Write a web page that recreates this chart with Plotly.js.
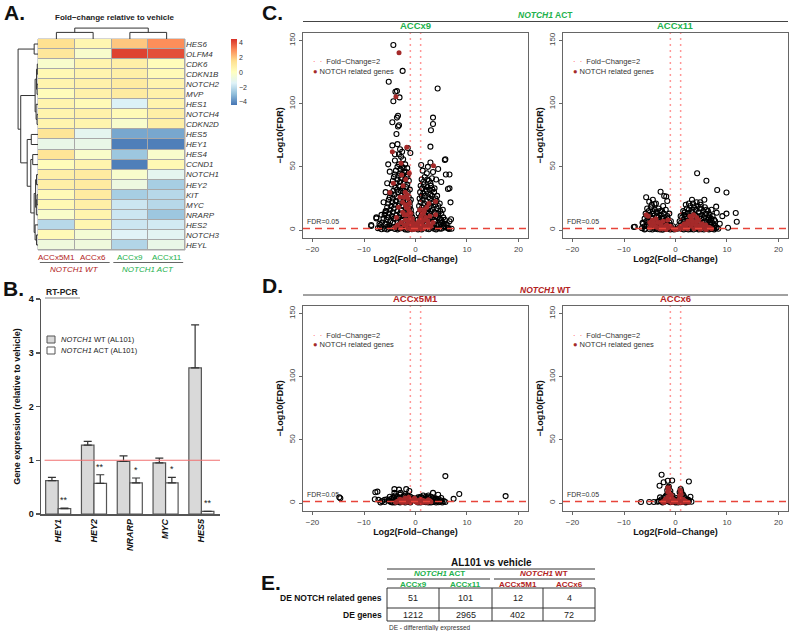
<!DOCTYPE html>
<html><head><meta charset="utf-8">
<script src="https://cdn.plot.ly/plotly-3.0.1.min.js"></script>
<style>html,body{margin:0;padding:0;background:#fff}#plot{width:790px;height:631px}</style>
</head><body><div id="plot"></div>
<script>
// ================= DATA =================
// Panel A: heatmap (fold-change relative to vehicle)
const heatGenes = ['HES6','OLFM4','CDK6','CDKN1B','NOTCH2','MVP','HES1','NOTCH4','CDKN2D','HES5','HEY1','HES4','CCND1','NOTCH1','HEY2','KIT','MYC','NRARP','HES2','NOTCH3','HEYL'];
const heatSamples = ['ACCx5M1','ACCx6','ACCx9','ACCx11'];
const heatValues = [
  [1.5, 0.5, 2.0, 3.0],
  [1.2, -0.3, 4.2, 4.0],
  [-0.3, 0.6, 0.8, 0.2],
  [0.4, 0.6, 0.8, 0.3],
  [0.6, 0.7, 1.0, 0.6],
  [0.2, 0.7, 1.0, 0.7],
  [0.6, 0.3, -1.5, 0.6],
  [0.6, 0.7, 0.3, 0.8],
  [0.6, 0.6, -0.3, 0.8],
  [1.3, -1.2, -3.4, -3.4],
  [-1.0, -1.0, -4.2, -4.2],
  [1.3, -0.2, -2.7, -0.3],
  [0.2, 0.6, -4.2, 0.4],
  [0.8, 1.0, -0.3, -1.2],
  [0.8, 1.0, -0.8, -2.5],
  [0.3, 1.0, -2.5, -2.2],
  [0.4, 0.8, -1.8, -2.2],
  [-0.2, 0.6, -1.8, -2.7],
  [-2.2, 0.5, -1.8, -1.7],
  [0.3, -0.5, -1.4, -1.3],
  [-0.7, -0.7, -2.3, -1.0]
];
// dendrogram merges: [left, right, height]; numbers = leaf index, 'mK' = merge K
const rowMerges = [
  [0,1,0.16],[2,3,0.03],[4,5,0.04],['m1','m2',0.06],[7,8,0.04],[6,'m4',0.08],['m3','m5',0.12],
  [9,10,0.28],[11,12,0.22],[13,14,0.06],[15,16,0.04],['m10',17,0.07],['m9','m11',0.10],
  [19,20,0.06],[18,'m13',0.12],['m12','m14',0.16],['m8','m15',0.30],['m7','m16',0.45],
  ['m6','m17',0.72],['m0','m18',0.83]
];
const colMerges = [[0,1,0.55],[2,3,0.55],['m0','m1',0.91]];

// Panel B: RT-PCR
const pcrGenes = ['HEY1','HEY2','NRARP','MYC','HES5'];
const wtMean = [0.62, 1.28, 0.98, 0.95, 2.72];
const wtErr  = [0.06, 0.07, 0.10, 0.09, 0.80];
const actMean = [0.10, 0.57, 0.58, 0.58, 0.05];
const actErr  = [0.01, 0.16, 0.09, 0.10, 0.00];
const pcrSig = ['**','**','*','*','**'];
const refLevel = 1;

// Panels C/D: volcano plots [log2FC, -log10FDR]
const fcThreshold = 1;          // log2(2)
const fdrThreshold = 0.05;
const accx9Other = [
 [-4.3,146.5],[-2.5,126],[-5.2,117.4],[4.3,112],[-3.9,109.5],[-3.6,110],[-3.1,105],[-4.3,102],[-3.4,90.5],[-3.6,89],[3.4,89],[3.4,84],[-4.5,85.3],[-3.4,82],[-3.2,83],[3.0,79],[-3.7,76],[2.9,66],[-4.5,67],[-3.5,68],[-3.0,64],[-2.6,62],[-4.0,60],[-2.8,58],[-2.4,56],[1.1,51.5],[2.9,53.5],[5.7,55.4],[4.4,48.3],[-5.0,46.2],[5.9,44],[6.3,32.5],[6.8,21.9],[-7.6,10],[-6.6,12],[-5.8,15],[-5.9,13.5],[-8.6,4],[-7.0,5],[6.6,7],[5.5,5],[-7.6,9.2],[-8.6,3.2],[-6.6,0.6],[6.9,8.5],[6.6,33],[6.6,44],[5.8,56],[-1.5,65],[-1.0,61],[4.0,40],[3.4,46],[2.2,45],[5.0,38],[-5.5,37],[-5.8,30],[-6.2,22],[-5.3,52],[1.4,47],[2.4,50],[-4.0,55],[-3.2,60],
 [-3.2,52],[-2.6,50],[-2.0,52],[-1.6,49],[-3.8,47],[-3.0,45],[-2.2,46],[-1.5,44],[-4.2,42],[-3.5,40],[-2.8,41],[-2.0,40],[-1.3,39],[-4.6,36],[-3.9,34],[-3.2,35],[-2.5,33],[-1.8,34],[-1.1,32],[-4.8,29],[-4.1,28],[-3.4,30],[-2.7,27],[-2.0,28],[-1.3,26],[-0.9,24],[-5.2,24],[-4.5,22],[-3.8,23],[-3.1,21],[-2.4,22],[-1.7,20],[-1.1,19],[-5.5,18],[-4.9,16],[-4.2,17],[-3.5,15],[-2.8,16],[-2.1,14],[-1.4,15],[-0.8,13],[-6.0,12],[-5.3,10],[-4.6,11],[-3.9,9],[-3.2,10],[-2.5,8],[-1.8,9],[-1.2,7],[-0.6,8],[-6.5,6],[-5.8,5],[-5.1,4],[-4.4,6],[-3.7,3],[-3.0,5],[-2.3,2],[-1.6,4],[-0.9,2],[-0.3,3],[-6.9,2],[-6.0,1],[-5.0,1.5],[-4.0,0.8],[-3.0,1.2],[-2.0,0.5],[-1.0,0.8],
 [-3.5,50],[-2.9,48],[-2.3,49],[-1.8,46],[-4.0,44],[-3.3,43],[-2.6,44],[-1.7,42],[-4.4,39],[-3.7,37],[-3.0,38],[-2.3,37],[-1.6,36],[-4.3,31],[-3.6,32],[-2.9,31],[-2.2,31],[-1.5,30],[-5.0,26],[-4.4,25],[-3.7,26],[-3.0,24],[-2.3,25],[-1.6,23],[-1.1,22],[-5.3,21],[-4.7,19],[-4.0,20],[-3.3,19],[-2.6,19],[-1.9,17],[-1.2,17],[-0.9,16],[-5.7,15],[-5.1,13],[-4.4,14],[-3.7,12],[-3.0,13],[-2.3,11],[-1.6,12],[-1.0,11],[-0.6,10],[-6.2,9],[-5.6,8],[-4.9,7],[-4.2,9],[-3.5,7],[-2.8,8],[-2.1,6],[-1.4,6],[-0.8,5],[-0.4,5],[-6.8,4],[-5.5,2.5],[-4.7,3],[-3.4,1.5],[-2.6,3],[-1.9,2],[-1.3,2.5],[-0.5,1.5],[-7.3,1.5],[-5.5,0.5],[-4.5,1.8],[-3.5,0.4],[-2.5,1.6],[-1.5,0.3],[-0.7,0.6],
 [1.2,40],[1.8,42],[2.6,39],[3.2,41],[1.0,35],[1.6,36],[2.3,34],[3.0,35],[3.7,33],[0.9,30],[1.5,29],[2.2,31],[2.9,28],[3.6,30],[4.2,27],[0.8,25],[1.4,24],[2.1,23],[2.8,25],[3.5,22],[4.1,23],[4.7,21],[0.7,19],[1.3,18],[2.0,17],[2.7,19],[3.4,16],[4.1,17],[4.8,15],[5.3,16],[0.6,13],[1.2,12],[1.9,11],[2.6,13],[3.3,10],[4.0,11],[4.7,9],[5.4,10],[0.4,8],[1.0,7],[1.7,6],[2.4,8],[3.1,5],[3.8,7],[4.5,4],[5.2,6],[5.9,5],[0.2,3],[0.8,2],[1.5,3],[2.2,1],[2.9,2],[3.6,1],[4.3,2],[5.0,1],[6.0,2],[6.5,0.8],[0.5,0.5],[1.2,0.5],
 [1.5,38],[2.3,40],[2.9,37],[1.3,33],[2.0,32],[2.7,32],[3.3,32],[1.2,27],[1.8,27],[2.5,26],[3.2,27],[3.9,25],[1.0,22],[1.7,21],[2.4,20],[3.1,21],[3.8,20],[4.4,19],[1.0,16],[1.6,15],[2.3,15],[3.0,15],[3.7,14],[4.4,13],[5.0,13],[0.9,10],[1.5,9],[2.2,10],[2.9,9],[3.6,8],[4.3,10],[5.0,8],[5.7,8],[0.7,5],[1.3,5],[2.0,4],[2.7,6],[3.4,3],[4.1,4],[4.8,6],[5.5,3],[6.2,4],[0.4,1.5],[1.0,1.2],[1.8,1.8],[2.6,0.6],[3.3,1.8],[4.0,0.5],[4.7,1.2],[5.4,1.8],[6.3,1.5],[7.0,1]
];
const accx9Notch = [
 [-3.2,140.4],[-3.8,105.6],[-1.7,65.5],[-4.5,62],[3.5,50.9],[-4.3,37],[-5.0,29.8],[-2.8,52.8],[-2.7,43.5],[0.8,15.8],[2.6,21],[1.7,14.8],[3.9,12],[3.9,22.6],
 [-2.0,30],[-1.5,25],[-2.5,22],[-1.8,18],[-1.2,15],[-2.2,12],[-1.0,10],[-0.5,6],[-1.5,5],[0.0,3],[0.5,2],[-0.3,1],[0.8,4],[1.3,6],[1.0,9],[1.8,8],[2.5,5],[3.0,3],[-2.8,6],[-3.5,4],[-0.8,2],[1.5,1],[-1.9,40],[-2.4,35],[-3.0,26],[-3.3,18],[2.2,18],[2.8,11],[-1.2,45],[-0.3,0.5],[0.3,0.8],
 [-1.6,28],[-2.3,26],[-1.2,21],[-2.0,20],[-1.5,17],[-0.9,13],[-1.7,12],[-2.5,14],[-0.6,9],[-1.3,8],[-2.0,8],[-0.2,5],[-0.9,4.5],[-2.2,4],[0.3,5],[0.6,7],[1.1,11],[1.5,13],[2.0,10],[2.4,7],[1.2,4],[1.9,3],[2.7,2],[-2.9,1.5],[-1.6,1.5],[-0.6,0.4],[0.9,1.2],[-1.0,1],[0.2,2],[-0.4,2.5],[1.6,16],[-3.7,10],[3.4,6],[-4.0,2]
];
const accx11Other = [
 [4.2,45],[6.0,39],[8.1,31.7],[9.9,29.7],[-2.9,30.3],[-2.2,26.9],[-5.7,26],[-5.1,22.4],[-4.4,24],[-4.1,20.6],[-1.6,23],[-1.8,26.5],[2.6,21],[3.2,24],[4.1,22],[4.9,20],[5.6,24],[7.9,18.5],[8.0,13.7],[9.9,13],[9.1,11],[11.7,13.5],[11.9,6.5],[-7.9,2.6],[-6.4,5.8],[8.6,5],[10.2,1.8],[-8.1,2.4],[7.0,16],[6.5,10],[7.5,8],
 [-5.5,17],[-4.8,18],[-4.0,16],[-3.3,17],[-2.6,15],[-1.9,16],[-1.2,13],[-5.8,13],[-5.0,12],[-4.3,13],[-3.6,11],[-2.9,12],[-2.2,10],[-1.5,9],[-0.9,7],[-6.0,9],[-5.3,8],[-4.6,9],[-3.9,7],[-3.2,8],[-2.5,6],[-1.8,5],[-1.1,4],[-0.5,3],[-6.3,5],[-5.6,4],[-4.9,5],[-4.2,3],[-3.5,4],[-2.8,2],[-2.1,3],[-1.4,1.5],[-0.7,1],[-6.5,1.5],[-5.8,1],[-5.0,0.6],[-4.0,1],[-3.0,0.5],[-2.0,0.8],[-0.3,0.4],[-4.6,20],[-3.8,21],[-2.4,19],
 [-5.2,15],[-4.4,15],[-3.7,14],[-3.0,15],[-2.3,13],[-1.6,11],[-5.5,11],[-4.7,10],[-3.3,10],[-2.6,9],[-1.9,8],[-1.2,6],[-5.7,7],[-4.9,7],[-4.3,6],[-3.6,6],[-2.9,5],[-2.2,5],[-1.5,3],[-0.8,2],[-6.0,3],[-5.2,3],[-4.5,2],[-3.8,2.5],[-3.1,3],[-2.4,1.5],[-1.7,1],[-1.0,0.5],[-6.0,0.5],[-4.5,0.4],[-3.5,0.6],[-2.5,0.3],
 [1.5,15],[2.2,17],[2.9,19],[3.6,18],[4.3,19],[5.0,17],[5.7,18],[6.3,15],[1.0,11],[1.7,12],[2.4,13],[3.1,14],[3.8,12],[4.5,14],[5.2,12],[5.9,13],[6.6,12],[7.2,11],[0.8,7],[1.5,8],[2.2,9],[2.9,7],[3.6,9],[4.3,8],[5.0,9],[5.7,7],[6.4,8],[7.1,6],[7.7,7],[0.5,3],[1.2,4],[1.9,5],[2.6,3],[3.3,4],[4.0,5],[4.7,3],[5.4,4],[6.1,3],[6.8,4],[7.5,3],[8.0,2],[0.4,1],[1.2,0.8],[2.0,1],[3.0,0.6],[4.0,1.2],[5.0,0.7],[6.0,1],[7.0,0.8],[8.3,1],[3.4,21],[4.8,22],[2.0,20],
 [1.8,14],[2.6,16],[3.3,16],[4.0,16],[4.7,17],[5.4,15],[6.0,16],[1.3,10],[2.0,11],[2.7,11],[3.4,11],[4.1,11],[4.8,11],[5.5,10],[6.2,10],[6.9,9],[1.1,6],[1.8,7],[2.5,6],[3.2,6],[3.9,7],[4.6,6],[5.3,6],[6.0,6],[6.7,6],[7.4,5],[0.8,2],[1.5,2.5],[2.3,3],[3.0,2],[3.7,3],[4.4,2],[5.1,2.5],[5.8,2],[6.5,2.5],[7.2,2],[7.8,1.5],[1.6,0.4],[2.5,0.5],[3.5,0.4],[4.5,0.5],[5.5,0.4],[6.5,0.5],[7.5,0.5]
];
const accx11Notch = [
 [-5.7,12],[-5.3,11],[-4.5,8],[-3.8,9],[-3.1,6],[-2.4,7],[-1.7,4],[-1.0,3],[-0.4,1],[-4.2,4],[-3.5,2],[-2.2,1.5],[-5.0,2],[-1.5,8],[0.4,1],[1.0,3],[1.7,5],[2.4,7],[3.1,9],[3.8,6],[4.5,8],[5.2,5],[5.9,4],[6.6,2],[2.0,2],[3.0,3],[4.2,2],[5.0,1.5],[2.8,11],[3.5,12],[4.1,10],[7.0,1],[1.5,1.2],[-3.0,0.8],[0.0,0.3],
 [-5.0,6],[-4.3,6],[-3.5,6],[-2.8,4],[-2.0,3],[-1.3,2],[-4.7,3.5],[-3.9,2.5],[-2.6,1],[-1.8,0.5],[0.8,1.5],[1.3,2],[2.0,4],[2.6,5],[3.4,5],[4.0,4],[4.8,4],[5.5,3],[6.2,2],[3.3,7],[4.2,7],[2.3,1],[3.6,1],[4.8,0.6],[5.8,0.8],[6.0,0.5]
];
const accx5m1Other = [
 [5.8,21.3],[-14.8,4.5],[-14.6,3.8],[17.5,5.5],[8.5,7.1],[7.4,3.3],[-7.8,8.5],[-7.4,9],[-4.1,11],[-3.2,10.6],[-1.8,11],[-4.1,8],[-2.9,8],[3.4,8],[4.4,6.5],[-7.9,3],[-7.2,2.5],[-6.5,1.5],[-6.0,2.5],[-1.2,9.5],[2.5,6],[5.0,4],
 [-5.5,3],[-5.0,5],[-4.5,4],[-4.0,6],[-3.5,5],[-3.0,6.5],[-2.5,5],[-2.0,7],[-1.5,6],[-1.0,5],[-0.5,4],[0.5,4.5],[1.0,5],[1.5,6],[2.0,5],[2.5,4.5],[3.0,5],[3.5,4],[4.0,3.5],[4.5,3],[5.0,2],[5.5,1.5],[-5.0,1.5],[-4.0,2],[-3.0,2.5],[-2.0,3],[-1.0,2.5],[0.0,2],[1.0,2.5],[2.0,2],[3.0,2],[4.0,1.5],[-6.0,0.8],[-4.5,0.5],[-3.5,1],[-2.5,0.8],[-1.5,1],[0.5,0.5],[1.5,0.8],[2.5,0.5],[3.5,0.8],[4.5,0.6],[5.8,0.8],[-6.8,0.5],
 [-5.2,2.2],[-4.7,3.2],[-4.2,4.8],[-3.8,3.5],[-3.3,4],[-2.7,3.8],[-2.2,5.5],[-1.7,4.5],[-1.2,3.8],[-0.7,3],[0.2,3.5],[0.8,3.8],[1.3,4.2],[1.8,3.5],[2.3,3.2],[2.8,3.6],[3.3,3],[3.8,2.5],[4.3,2],[4.8,1.2],[-4.8,0.8],[-4.0,0.4],[-3.0,0.5],[-2.0,0.4],[-1.0,0.5],[1.0,0.4],[2.0,0.6],[3.0,0.5],[4.0,0.4],[5.2,0.5]
];
const accx5m1Notch = [
 [-3.5,1.5],[-3.0,3],[-2.5,2],[-2.0,4],[-1.5,3],[-1.0,1.5],[-0.5,2.5],[0.0,1],[0.5,2],[1.0,3],[1.5,2],[2.0,1.5],[2.5,2.5],[3.0,1],[-2.8,0.8],[-1.8,0.6],[0.8,0.6],[1.8,0.8],[-0.2,3.8],[-1.3,4.5],
 [-3.2,2],[-2.2,2.8],[-1.2,2.2],[-0.2,1.8],[0.8,1.5],[1.8,1.3],[2.8,1.6],[-2.5,0.5],[-1.0,0.5],[0.3,0.4],[1.3,0.5],[2.3,0.6],[-3.8,0.6]
];
const accx6Other = [
 [-2.7,22.4],[-1.5,17.6],[-0.65,17.8],[-2.3,16.5],[-3.1,13.7],[2.6,17],[-6.7,0.8],[-5.1,0.8],[2.9,5],[-1.3,13],[1.0,11],[0.8,8.5],[2.5,2.5],[3.1,1],[-3.5,1],[-2.9,2],[-2.2,4],[-1.8,6],[-1.2,8],[-0.8,5],[-0.3,3],[0.3,2.5],[0.9,5],[1.4,7],[1.8,4],[2.2,3],[-2.5,0.5],[-1.5,1.5],[-0.5,0.8],[0.5,0.5],[1.5,1],[2.4,0.8],[-1.6,10],[1.1,9.5],[-4.2,0.8],[-3.0,4.5],
 [-2.7,3],[-2.0,5],[-1.6,7],[-1.0,9.5],[-0.6,6],[0.2,4],[0.7,3.5],[1.2,6],[1.6,5.5],[2.0,2.5],[2.6,1.5],[-3.2,1.5],[-2.2,1],[-1.0,0.6],[0.0,0.5],[1.0,0.6],[2.0,0.5],[-1.4,12],[1.0,8]
];
const accx6Notch = [
 [-1.5,12],[-1.3,11],[0.9,10.3],[1.0,9],[-2.0,3],[-1.5,5],[-1.0,7],[-0.5,3],[0.0,1],[0.5,2],[1.0,4],[1.5,3],[2.0,1.5],[-2.5,1],[-1.2,1.5],[0.8,6],[2.5,0.6],
 [-1.8,2],[-1.2,4],[-0.8,6],[-0.3,2],[0.3,1],[0.7,3],[1.2,2],[1.7,1],[-1.5,9],[1.1,7],[-2.2,0.5],[-0.6,0.5],[0.6,0.5],[1.4,0.5]
];

// Panel E: table
const tableSamples = ['ACCx9','ACCx11','ACCx5M1','ACCx6'];
const tableNotchDE = [51, 101, 12, 4];
const tableAllDE = [1212, 2965, 402, 72];

// ================= DRAWING =================
const W = 790, H = 631;
const px = v => v / W, py = v => 1 - v / H;
const FONT = 'Liberation Sans, Arial, sans-serif';
const RED = '#B22222', GREEN = '#22B14C', NOTCH_RED = '#A52A2A', LINE_RED = '#E8443A';
const traces = [], shapes = [], annotations = [];
const layout = {
  width: W, height: H, margin: {l:0, r:0, t:0, b:0},
  paper_bgcolor: '#fff', plot_bgcolor: 'rgba(0,0,0,0)',
  font: {family: FONT, color: '#222', size: 9},
  showlegend: false, barmode: 'group', bargap: 0.3, bargroupgap: 0,
  shapes, annotations
};
function txt(x, y, text, opt) {
  annotations.push(Object.assign({xref:'paper', yref:'paper', x:px(x), y:py(y), text, showarrow:false,
    xanchor:'center', yanchor:'middle', font:{size:9, color:'#222'}}, opt || {}));
}
function hline(x0, x1, y, color, width) {
  shapes.push({type:'line', xref:'paper', yref:'paper', x0:px(x0), x1:px(x1), y0:py(y), y1:py(y), line:{color:color||'#333', width:width||1}});
}

// ---- Panel A ----
const HM = {x0:38, x1:185, y0:39, y1:250};
const hidden = {visible:false, showgrid:false, zeroline:false, fixedrange:true};
layout.xaxis = Object.assign({}, hidden, {domain:[px(HM.x0), px(HM.x1)], range:[-0.5, 3.5], anchor:'y'});
layout.yaxis = {domain:[py(HM.y1), py(HM.y0)], range:[heatGenes.length - 0.5, -0.5], anchor:'x', side:'right',
  tickvals: heatGenes.map((_, i) => i), ticktext: heatGenes.map(g => '<i>' + g + '</i>'), ticks:'', showgrid:false, zeroline:false,
  tickfont:{size:8, color:'#333'}, showline:false};
shapes.push({type:'rect', xref:'x domain', yref:'y domain', x0:0, x1:1, y0:0, y1:1, fillcolor:'#A8A8A8', line:{color:'#A8A8A8', width:1}, layer:'below'});
traces.push({type:'heatmap', x: heatSamples.map((_, i) => i), y: heatGenes.map((_, i) => i), z: heatValues,
  xaxis:'x', yaxis:'y', xgap:1, ygap:1, zmin:-4.4, zmax:4.5, hoverinfo:'skip',
  colorscale:[[0,'#4575B4'],[1/6,'#91BFDB'],[2/6,'#E0F3F8'],[3/6,'#FFFFBF'],[4/6,'#FEE090'],[5/6,'#FC8D59'],[1,'#D73027']],
  colorbar:{x:px(231), xanchor:'left', y:py(39), yanchor:'top', len:66/H, lenmode:'fraction', thickness:6, xpad:0, ypad:0,
    outlinewidth:0, tickvals:[-4,-2,0,2,4], ticktext:['−4','−2','0','2','4'], tickfont:{size:7, color:'#333'}, ticks:''}});

function dendro(merges) {
  const pos = {}, hgt = {}, p = [], h = [];
  const get = n => typeof n === 'number' ? [n, 0] : [pos[n], hgt[n]];
  merges.forEach((m, k) => {
    const [a, b, ht] = m; const [pa, ha] = get(a), [pb, hb] = get(b);
    p.push(pa, pa, pb, pb, null); h.push(ha, ht, ht, hb, null);
    pos['m' + k] = (pa + pb) / 2; hgt['m' + k] = ht;
  });
  return {p, h};
}
const cd = dendro(colMerges);
layout.xaxis2 = Object.assign({}, hidden, {domain:[px(HM.x0), px(HM.x1)], range:[-0.5, 3.5], anchor:'y2'});
layout.yaxis2 = Object.assign({}, hidden, {domain:[py(HM.y0), py(27)], range:[0, 1], anchor:'x2'});
traces.push({type:'scatter', mode:'lines', x:cd.p, y:cd.h, xaxis:'x2', yaxis:'y2', line:{color:'#333', width:1}, hoverinfo:'skip'});
const rd = dendro(rowMerges);
layout.xaxis3 = Object.assign({}, hidden, {domain:[px(14), px(HM.x0)], range:[1, 0], anchor:'y3'});
layout.yaxis3 = Object.assign({}, hidden, {domain:[py(HM.y1), py(HM.y0)], range:[heatGenes.length - 0.5, -0.5], anchor:'x3'});
traces.push({type:'scatter', mode:'lines', x:rd.h, y:rd.p, xaxis:'x3', yaxis:'y3', line:{color:'#333', width:1}, hoverinfo:'skip'});

txt(2, 12, '<b>A.</b>', {xanchor:'left', font:{size:21, color:'#111'}});
txt(114, 17, '<b>Fold−change relative to vehicle</b>', {font:{size:8, color:'#222'}});
const sampleColor = [RED, RED, GREEN, GREEN];
heatSamples.forEach((s, i) => annotations.push({xref:'x', yref:'paper', x:i, y:py(257), text:s, showarrow:false,
  font:{size:8, color:sampleColor[i]}, yanchor:'middle'}));
[[0, 1, RED, 'NOTCH1 WT'], [2, 3, GREEN, 'NOTCH1 ACT']].forEach(([a, b, c, t]) => {
  shapes.push({type:'line', xref:'x', yref:'paper', x0:a - 0.45, x1:b + 0.45, y0:py(262.5), y1:py(262.5), line:{color:'#666', width:1}});
  annotations.push({xref:'x', yref:'paper', x:(a + b) / 2, y:py(269), text:'<i>' + t + '</i>', showarrow:false, font:{size:8, color:c}, yanchor:'middle'});
});

// ---- Panel B ----
layout.xaxis4 = {domain:[px(41), px(220)], range:[-0.48, 4.52], anchor:'y4', type:'category', showline:true, linecolor:'#555', linewidth:1.5,
  ticks:'', tickangle:-90, tickfont:{size:9, color:'#111', weight:'bold', style:'italic'}, showgrid:false, zeroline:false, fixedrange:true};
layout.yaxis4 = {domain:[py(514), py(299)], range:[0, 4], anchor:'x4', showline:true, linecolor:'#555', linewidth:1.5,
  ticks:'outside', ticklen:4, tickwidth:1.5, tickcolor:'#555', tickvals:[0,1,2,3,4], tickfont:{size:9, color:'#111', weight:'bold'},
  showgrid:false, zeroline:false, fixedrange:true,
  title:{text:'<b>Gene expression (relative to vehicle)</b>', font:{size:9, color:'#111'}, standoff:6}};
const zeros = pcrGenes.map(() => 0);
traces.push({type:'bar', x:pcrGenes, y:wtMean, xaxis:'x4', yaxis:'y4', marker:{color:'#D9D9D9', line:{color:'#555', width:1.2}},
  error_y:{type:'data', symmetric:false, array:wtErr, arrayminus:zeros, color:'#333', thickness:1.2, width:4}, hoverinfo:'skip'});
traces.push({type:'bar', x:pcrGenes, y:actMean, xaxis:'x4', yaxis:'y4', marker:{color:'#FFFFFF', line:{color:'#555', width:1.2}},
  error_y:{type:'data', symmetric:false, array:actErr, arrayminus:zeros, color:'#333', thickness:1.2, width:4}, hoverinfo:'skip'});
shapes.push({type:'line', xref:'x4 domain', yref:'y4', x0:0.02, x1:1, y0:refLevel, y1:refLevel, line:{color:'#F07070', width:1.2}});
const barOff = (1 - layout.bargap) / 4;
pcrGenes.forEach((g, i) => annotations.push({xref:'x4', yref:'y4', x:i + barOff, y:actMean[i] + actErr[i], text:pcrSig[i],
  showarrow:false, yanchor:'bottom', yshift:1, font:{size:9, color:'#222'}}));
txt(1, 288, '<b>B.</b>', {xanchor:'left', font:{size:21, color:'#111'}});
txt(62, 292, '<b>RT-PCR</b>', {font:{size:8.5, color:'#222'}});
hline(45, 80, 298, '#888', 1);
shapes.push({type:'rect', xref:'paper', yref:'paper', x0:px(47), x1:px(55), y0:py(343), y1:py(336), fillcolor:'#D9D9D9', line:{color:'#555', width:1}});
shapes.push({type:'rect', xref:'paper', yref:'paper', x0:px(47), x1:px(55), y0:py(354), y1:py(347), fillcolor:'#FFFFFF', line:{color:'#555', width:1}});
txt(59, 339.5, '<i>NOTCH1</i> WT (AL101)', {xanchor:'left', font:{size:7.5, color:'#222'}});
txt(59, 350.5, '<i>NOTCH1</i> ACT (AL101)', {xanchor:'left', font:{size:7.5, color:'#222'}});

// ---- Panels C & D: volcanoes ----
const fdrLine = -Math.log10(fdrThreshold);
function volcano(n, left, top, other, notch, title, color) {
  const wpx = 225, hpx = 204.6;
  const common = {showline:true, mirror:true, linecolor:'#666', linewidth:1.4, ticks:'outside', ticklen:3, tickcolor:'#666',
    tickfont:{size:8, color:'#444'}, showgrid:false, zeroline:false, fixedrange:true};
  layout['xaxis' + n] = Object.assign({}, common, {domain:[px(left), px(left + wpx)], range:[-21.85, 21.85], anchor:'y' + n,
    tickvals:[-20,-10,0,10,20], ticktext:['−20','−10','0','10','20'],
    title:{text:'<b>Log2(Fold−Change)</b>', font:{size:9, color:'#111'}, standoff:3}});
  layout['yaxis' + n] = Object.assign({}, common, {domain:[py(top + hpx), py(top)], range:[-6, 156], anchor:'x' + n,
    tickvals:[0,50,100,150], tickangle:-90,
    title:{text:'<b>−Log10(FDR)</b>', font:{size:9, color:'#111'}, standoff:3}});
  [-fcThreshold, fcThreshold].forEach(v => shapes.push({type:'line', xref:'x' + n, yref:'y' + n + ' domain', x0:v, x1:v, y0:0, y1:1,
    line:{color:'#FF3030', width:1.5, dash:'1px,5px'}}));
  traces.push({type:'scatter', mode:'markers', x:other.map(p => p[0]), y:other.map(p => p[1]), xaxis:'x' + n, yaxis:'y' + n,
    marker:{symbol:'circle-open', size:5, color:'#000', line:{width:1.1}}, hoverinfo:'skip'});
  traces.push({type:'scatter', mode:'markers', x:notch.map(p => p[0]), y:notch.map(p => p[1]), xaxis:'x' + n, yaxis:'y' + n,
    marker:{symbol:'circle', size:5, color:NOTCH_RED}, hoverinfo:'skip'});
  shapes.push({type:'line', xref:'x' + n + ' domain', yref:'y' + n, x0:0, x1:1, y0:fdrLine, y1:fdrLine, layer:'above',
    line:{color:LINE_RED, width:1.5, dash:'7px,5px'}});
  annotations.push({xref:'x' + n + ' domain', yref:'y' + n + ' domain', x:0.5, y:1, yanchor:'bottom', yshift:0, text:'<b>' + title + '</b>',
    showarrow:false, font:{size:9.5, color}});
  annotations.push({xref:'x' + n + ' domain', yref:'y' + n + ' domain', x:0.035, y:1 - 29 / hpx, xanchor:'left', yanchor:'middle',
    text:"<span style='color:#FF3030'>·  ·</span>  Fold−Change=2", showarrow:false, font:{size:7.5, color:'#333'}});
  annotations.push({xref:'x' + n + ' domain', yref:'y' + n + ' domain', x:0.035, y:1 - 38.5 / hpx, xanchor:'left', yanchor:'middle',
    text:"<span style='color:" + NOTCH_RED + "'>●</span> NOTCH related genes", showarrow:false, font:{size:7.5, color:'#333'}});
  annotations.push({xref:'x' + n + ' domain', yref:'y' + n, x:0.01, y:fdrLine, xanchor:'left', yanchor:'bottom', yshift:1,
    text:'FDR=0.05', showarrow:false, font:{size:7, color:'#333'}});
}
volcano(5, 303, 33, accx9Other, accx9Notch, 'ACCx9', GREEN);
volcano(6, 563, 33, accx11Other, accx11Notch, 'ACCx11', GREEN);
volcano(7, 303, 306, accx5m1Other, accx5m1Notch, 'ACCx5M1', RED);
volcano(8, 563, 306, accx6Other, accx6Notch, 'ACCx6', RED);
hline(303, 788, 21.5, '#444', 1);
txt(545, 15.5, '<b><i>NOTCH1</i> ACT</b>', {font:{size:8.5, color:GREEN}});
hline(303, 788, 295, '#444', 1);
txt(545, 290, '<b><i>NOTCH1</i> WT</b>', {font:{size:8.5, color:RED}});
txt(260, 13, '<b>C.</b>', {xanchor:'left', font:{size:21, color:'#111'}});
txt(260, 285, '<b>D.</b>', {xanchor:'left', font:{size:21, color:'#111'}});

// ---- Panel E: table ----
const colEdges = [387, 439, 492, 543, 595];
const rowEdges = [588, 608, 621];
txt(259, 582, '<b>E.</b>', {xanchor:'left', font:{size:21, color:'#111'}});
txt(491, 562, '<b>AL101 vs vehicle</b>', {font:{size:10, color:'#111'}});
hline(colEdges[0], colEdges[4], 569, '#333', 1);
hline(colEdges[0], colEdges[2] - 2, 579, '#333', 1);
hline(colEdges[2] + 2, colEdges[4], 579, '#333', 1);
txt((colEdges[0] + colEdges[2]) / 2, 573.5, '<b><i>NOTCH1</i> ACT</b>', {font:{size:8, color:GREEN}});
txt((colEdges[2] + colEdges[4]) / 2, 573.5, '<b><i>NOTCH1</i> WT</b>', {font:{size:8, color:RED}});
tableSamples.forEach((s, i) => {
  const cx = (colEdges[i] + colEdges[i + 1]) / 2;
  txt(cx, 584, '<b>' + s + '</b>', {font:{size:8, color: i < 2 ? GREEN : RED}});
  txt(cx, (rowEdges[0] + rowEdges[1]) / 2, String(tableNotchDE[i]), {font:{size:9, color:'#222'}});
  txt(cx, (rowEdges[1] + rowEdges[2]) / 2, String(tableAllDE[i]), {font:{size:9, color:'#222'}});
});
shapes.push({type:'rect', xref:'paper', yref:'paper', x0:px(colEdges[0]), x1:px(colEdges[4]), y0:py(rowEdges[2]), y1:py(rowEdges[0]), line:{color:'#333', width:1}});
hline(colEdges[0], colEdges[4], rowEdges[1], '#333', 1);
colEdges.slice(1, 4).forEach(c => shapes.push({type:'line', xref:'paper', yref:'paper', x0:px(c), x1:px(c), y0:py(rowEdges[2]), y1:py(rowEdges[0]), line:{color:'#333', width:1}}));
txt(384, (rowEdges[0] + rowEdges[1]) / 2, '<b>DE NOTCH related genes</b>', {xanchor:'right', font:{size:8.5, color:'#111'}});
txt(384, (rowEdges[1] + rowEdges[2]) / 2, '<b>DE genes</b>', {xanchor:'right', font:{size:8.5, color:'#111'}});
txt(387, 628, 'DE - differentially expressed', {xanchor:'left', font:{size:6.5, color:'#333'}});

Plotly.newPlot('plot', traces, layout, {staticPlot:true, displayModeBar:false});
</script></body></html>
